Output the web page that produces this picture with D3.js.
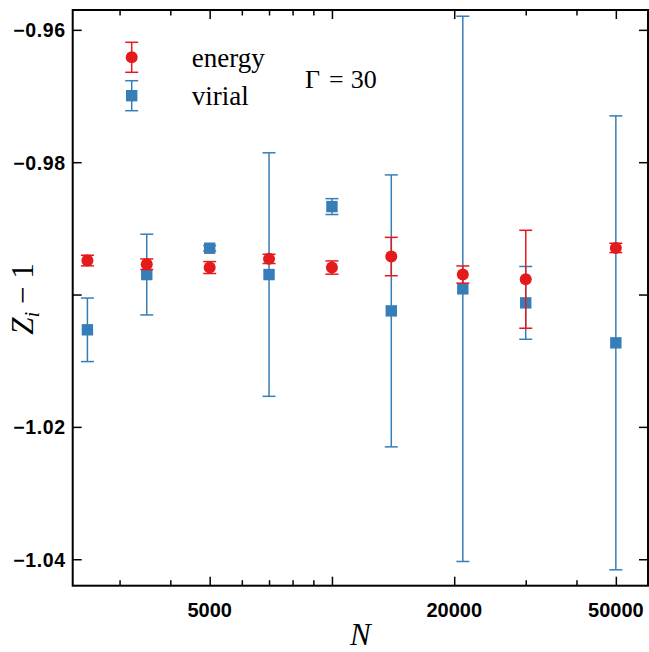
<!DOCTYPE html>
<html>
<head>
<meta charset="utf-8">
<script src="https://cdn.jsdelivr.net/npm/d3@7"></script>
<style>
  body { margin: 0; background: #fff; }
  svg { display: block; }
</style>
</head>
<body>
<div id="container"></div>
<script>
/* CONSTANTS AND GLOBALS */
const width = 649,
  height = 652,
  margin = { top: 10, bottom: 66.3, left: 72.7, right: 1 }

// data
const nValues = [2500, 3500, 5000, 7000, 10000, 14000, 21000, 30000, 50000]
const energy = [-0.99486, -0.99542, -0.99592, -0.99461, -0.99592, -0.99426, -0.99698, -0.99769, -0.99295]
const energyErr = [0.0008, 0.0008, 0.0009, 0.0007, 0.001, 0.0029, 0.0013, 0.0074, 0.0007]
const virial = [-1.00533, -0.99698, -0.9930, -0.99698, -0.98671, -1.00247, -0.99914, -1.00126, -1.0073]
const virialErr = [0.0048, 0.0061, 0.0004, 0.0184, 0.0012, 0.02055, 0.0412, 0.0055, 0.0343]

const xMajor = [5000, 10000, 20000, 50000]
const xMinor = [3000, 4000, 6000, 7000, 8000, 9000, 30000, 40000]
const xLabels = [5000, 20000, 50000]
const yTicks = [-0.96, -0.98, -1.00, -1.02, -1.04]
const yLabels = [-0.96, -0.98, -1.02, -1.04]

const red = '#e41a1c'
const blue = '#377eb8'

const svg = d3.select('#container')
  .append('svg')
  .attr('width', width)
  .attr('height', height)

const xScale = d3.scaleLog()
  .domain([2300, 60000])
  .range([margin.left, width - margin.right])

const yScale = d3.scaleLinear()
  .domain([-1.044, -0.957])
  .range([height - margin.bottom, margin.top])

const x0 = margin.left, x1 = width - margin.right
const y0 = margin.top, y1 = height - margin.bottom

// + AXES (ticks drawn inward on all four sides)
const fmt = d => d3.format('.2f')(d).replace('-', '\u2212')

function bottomAxis(tickLen, vals) {
  return d3.axisBottom(xScale).tickValues(vals).tickSizeInner(-tickLen).tickSizeOuter(0).tickFormat('')
}
function leftAxis(tickLen) {
  return d3.axisLeft(yScale).tickValues(yTicks).tickSizeInner(-tickLen).tickSizeOuter(0).tickFormat('')
}

const axes = svg.append('g').attr('class', 'axes')
axes.append('g').attr('transform', `translate(0,${y1})`).call(bottomAxis(9, xMajor))
axes.append('g').attr('transform', `translate(0,${y1})`).call(bottomAxis(5.5, xMinor))
axes.append('g').attr('transform', `translate(0,${y0})`).call(bottomAxis(-9, xMajor))
axes.append('g').attr('transform', `translate(0,${y0})`).call(bottomAxis(-5.5, xMinor))
axes.append('g').attr('transform', `translate(${x0},0)`).call(leftAxis(9))
axes.append('g').attr('transform', `translate(${x1},0)`).call(leftAxis(-9))
axes.selectAll('.domain').remove()
axes.selectAll('.tick line').attr('stroke', '#000').attr('stroke-width', 1.5)

// tick labels
svg.append('g').selectAll('text')
  .data(xLabels)
  .join('text')
  .attr('x', d => xScale(d))
  .attr('y', y1 + 31)
  .attr('text-anchor', 'middle')
  .attr('font-family', 'Liberation Sans, Arial, sans-serif')
  .attr('font-weight', 'bold')
  .attr('font-size', 20)
  .text(d => d)

svg.append('g').selectAll('text')
  .data(yLabels)
  .join('text')
  .attr('x', x0 - 7)
  .attr('y', d => yScale(d) + 7.5)
  .attr('text-anchor', 'end')
  .attr('font-family', 'Liberation Sans, Arial, sans-serif')
  .attr('font-weight', 'bold')
  .attr('font-size', 19.5)
  .attr('letter-spacing', 0.6)
  .text(d => fmt(d))

// frame
svg.append('rect')
  .attr('x', x0).attr('y', y0)
  .attr('width', x1 - x0).attr('height', y1 - y0)
  .attr('fill', 'none').attr('stroke', '#000').attr('stroke-width', 2)

// axis titles
svg.append('text')
  .attr('x', (x0 + x1) / 2)
  .attr('y', 645)
  .attr('text-anchor', 'middle')
  .attr('font-family', 'Liberation Serif, Times New Roman, serif')
  .attr('font-style', 'italic')
  .attr('font-size', 31)
  .text('N')

const yTitle = svg.append('text')
  .attr('transform', 'translate(33,299) rotate(-90)')
  .attr('text-anchor', 'middle')
  .attr('font-family', 'Liberation Serif, Times New Roman, serif')
  .attr('font-size', 31)
yTitle.append('tspan').attr('font-style', 'italic').text('Z')
yTitle.append('tspan').attr('font-style', 'italic').attr('font-size', 21).attr('dy', 6).text('i')
yTitle.append('tspan').attr('dy', -6).text(' \u2212 1')

/* DRAW SERIES */
function drawSeries(values, errs, color, shape) {
  const g = svg.append('g')
  const rows = nValues.map((n, i) => ({ n, v: values[i], e: errs[i] }))
  g.selectAll('line.bar')
    .data(rows).join('line')
    .attr('x1', d => xScale(d.n)).attr('x2', d => xScale(d.n))
    .attr('y1', d => yScale(d.v - d.e)).attr('y2', d => yScale(d.v + d.e))
    .attr('stroke', color).attr('stroke-width', 1.5)
  ;['lo', 'hi'].forEach(side => {
    g.selectAll('line.cap-' + side)
      .data(rows).join('line')
      .attr('x1', d => xScale(d.n) - 6.5).attr('x2', d => xScale(d.n) + 6.5)
      .attr('y1', d => yScale(side === 'lo' ? d.v - d.e : d.v + d.e))
      .attr('y2', d => yScale(side === 'lo' ? d.v - d.e : d.v + d.e))
      .attr('stroke', color).attr('stroke-width', 1.5)
  })
  if (shape === 'circle') {
    g.selectAll('circle')
      .data(rows).join('circle')
      .attr('cx', d => xScale(d.n)).attr('cy', d => yScale(d.v))
      .attr('r', 6).attr('fill', color)
  } else {
    g.selectAll('rect')
      .data(rows).join('rect')
      .attr('x', d => xScale(d.n) - 5.7).attr('y', d => yScale(d.v) - 5.7)
      .attr('width', 11.4).attr('height', 11.4).attr('fill', color)
  }
}

drawSeries(virial, virialErr, blue, 'square')
drawSeries(energy, energyErr, red, 'circle')

/* LEGEND */
const legend = svg.append('g').attr('transform', 'translate(131.7,0)')
const legendItems = [
  { label: 'energy', color: red, shape: 'circle', y: 57.3 },
  { label: 'virial', color: blue, shape: 'square', y: 95.7 }
]
legendItems.forEach(item => {
  const g = legend.append('g').attr('transform', `translate(0,${item.y})`)
  g.append('line').attr('y1', -15).attr('y2', 15).attr('stroke', item.color).attr('stroke-width', 1.5)
  g.append('line').attr('x1', -6.5).attr('x2', 6.5).attr('y1', -15).attr('y2', -15).attr('stroke', item.color).attr('stroke-width', 1.5)
  g.append('line').attr('x1', -6.5).attr('x2', 6.5).attr('y1', 15).attr('y2', 15).attr('stroke', item.color).attr('stroke-width', 1.5)
  if (item.shape === 'circle') {
    g.append('circle').attr('r', 6).attr('fill', item.color)
  } else {
    g.append('rect').attr('x', -5.7).attr('y', -5.7).attr('width', 11.4).attr('height', 11.4).attr('fill', item.color)
  }
  g.append('text')
    .attr('x', 60).attr('y', 9.5)
    .attr('font-family', 'Liberation Serif, Times New Roman, serif')
    .attr('font-size', 27)
    .text(item.label)
})

// annotation
const gamma = svg.append('text')
  .attr('x', 305).attr('y', 88.3)
  .attr('font-family', 'Liberation Serif, Times New Roman, serif')
  .attr('font-size', 26)
gamma.append('tspan').text('\u0393')
gamma.append('tspan').attr('dx', 9).text('=')
gamma.append('tspan').attr('dx', 7).text('30')
</script>
</body>
</html>
